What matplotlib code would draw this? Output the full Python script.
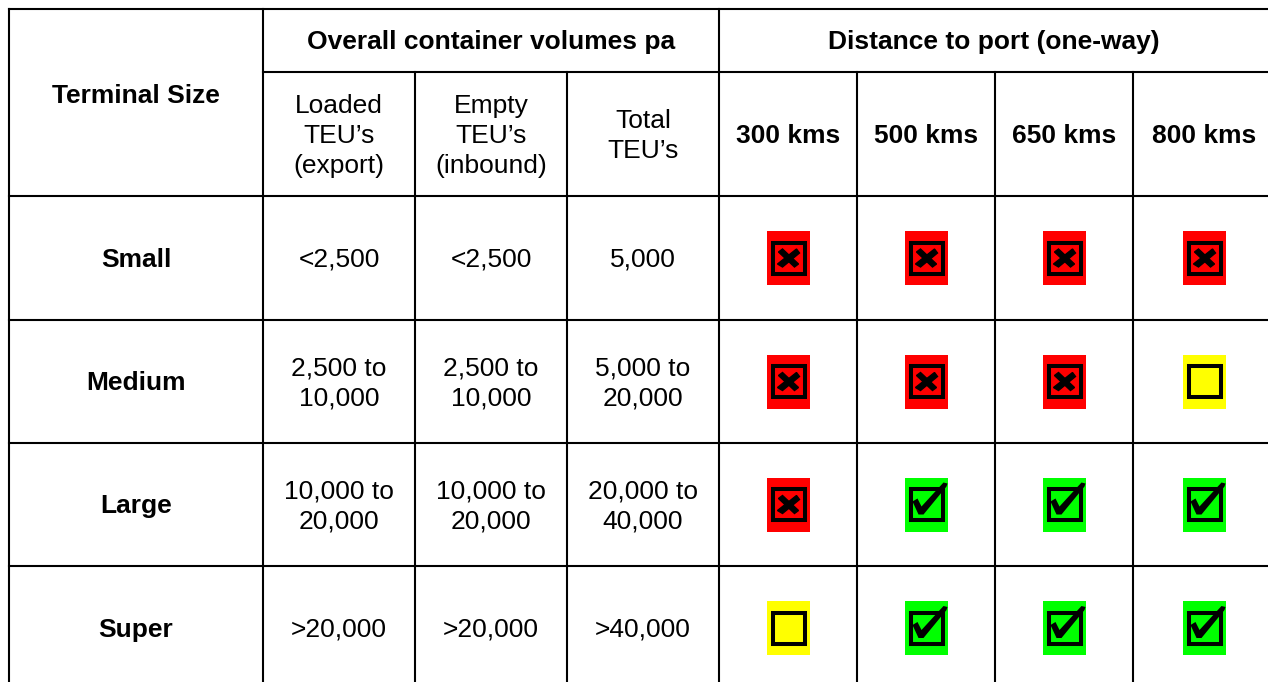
import matplotlib.pyplot as plt
from matplotlib.patches import Rectangle, Polygon

plt.rcParams['font.family'] = ['Liberation Sans', 'DejaVu Sans']

# table content
sizes = ["Small", "Medium", "Large", "Super"]
loaded = ["<2,500", "2,500 to\n10,000", "10,000 to\n20,000", ">20,000"]
empty = ["<2,500", "2,500 to\n10,000", "10,000 to\n20,000", ">20,000"]
total = ["5,000", "5,000 to\n20,000", "20,000 to\n40,000", ">40,000"]
distances = ["300 kms", "500 kms", "650 kms", "800 kms"]
# x = not viable, ok = viable, maybe = marginal
status = [
    ["x", "x", "x", "x"],
    ["x", "x", "x", "maybe"],
    ["x", "ok", "ok", "ok"],
    ["maybe", "ok", "ok", "ok"],
]
vol_headers = ["Loaded\nTEU\u2019s\n(export)", "Empty\nTEU\u2019s\n(inbound)", "Total\nTEU\u2019s"]

# layout in pixels
W, H = 1268, 682
col_x = [9, 263, 415, 567, 719, 857, 995, 1133, 1275]
row_y = [9, 196, 320, 443, 566, 690]
sub_y = 72
lw = 1.5
fs = 19
ls = 1.32
colors = {"x": "#ff0000", "ok": "#00ff00", "maybe": "#ffff00"}

fig = plt.figure(figsize=(W / 100, H / 100), dpi=100)
ax = fig.add_axes([0, 0, 1, 1])
ax.set_xlim(0, W)
ax.set_ylim(H, 0)
ax.axis("off")

def hline(y, x0, x1):
    ax.plot([x0, x1], [y, y], color="black", lw=lw, solid_capstyle="projecting")

def vline(x, y0, y1):
    ax.plot([x, x], [y0, y1], color="black", lw=lw, solid_capstyle="projecting")

# grid
for y in row_y[:-1]:
    hline(y, col_x[0], col_x[-1])
hline(sub_y, col_x[1], col_x[-1])
for i, x in enumerate(col_x[:-1]):
    if i in (0, 1, 4):
        vline(x, row_y[0], row_y[-1])
    else:
        vline(x, sub_y, row_y[-1])

def cx(i):
    return (col_x[i] + col_x[i + 1]) / 2

def cy(j):
    return (row_y[j] + row_y[j + 1]) / 2

# header
ax.text(cx(0), 96, "Terminal Size", ha="center", va="center", fontsize=fs, fontweight="bold")
ax.text((col_x[1] + col_x[4]) / 2, (row_y[0] + sub_y) / 2 + 2, "Overall container volumes pa",
        ha="center", va="center", fontsize=fs, fontweight="bold")
ax.text((col_x[4] + col_x[8] - 6) / 2, (row_y[0] + sub_y) / 2 + 2, "Distance to port (one-way)",
        ha="center", va="center", fontsize=fs, fontweight="bold")
hy = (sub_y + row_y[1]) / 2 + 2
for i, t in enumerate(vol_headers):
    ax.text(cx(1 + i), hy, t, ha="center", va="center", fontsize=fs, linespacing=ls)
for i, t in enumerate(distances):
    ax.text(cx(4 + i), hy, t, ha="center", va="center", fontsize=fs, fontweight="bold")

def icon(x, y, kind):
    ax.add_patch(Rectangle((x - 21.5, y - 27), 43, 54, facecolor=colors[kind], edgecolor="none"))
    ax.add_patch(Rectangle((x - 16, y - 15.5), 32, 31, facecolor="none", edgecolor="black", lw=2.9))
    if kind == "x":
        ax.add_patch(Polygon([(x - 10, y - 6), (x - 6, y - 9), (x + 10, y + 6), (x + 6, y + 9)],
                             closed=True, facecolor="black", edgecolor="black", lw=1))
        ax.add_patch(Polygon([(x + 8, y - 9), (x + 11, y - 5), (x - 6, y + 9), (x - 11, y + 6)],
                             closed=True, facecolor="black", edgecolor="black", lw=1))
    elif kind == "ok":
        pts = [(x - 14, y - 3), (x - 9, y - 6), (x - 5, y + 2), (x + 17, y - 22),
               (x + 21, y - 21), (x + 20, y - 18), (x - 3, y + 10), (x - 8, y + 10)]
        ax.add_patch(Polygon(pts, closed=True, facecolor="black", edgecolor="none"))

# body rows
for j in range(4):
    y = cy(j + 1) + 2
    ax.text(cx(0), y, sizes[j], ha="center", va="center", fontsize=fs, fontweight="bold")
    ax.text(cx(1), y, loaded[j], ha="center", va="center", fontsize=fs, linespacing=ls)
    ax.text(cx(2), y, empty[j], ha="center", va="center", fontsize=fs, linespacing=ls)
    ax.text(cx(3), y, total[j], ha="center", va="center", fontsize=fs, linespacing=ls)
    for i in range(4):
        icon(cx(4 + i) + 0.5, y - 2, status[j][i])

fig.savefig("out.png", dpi=100)
